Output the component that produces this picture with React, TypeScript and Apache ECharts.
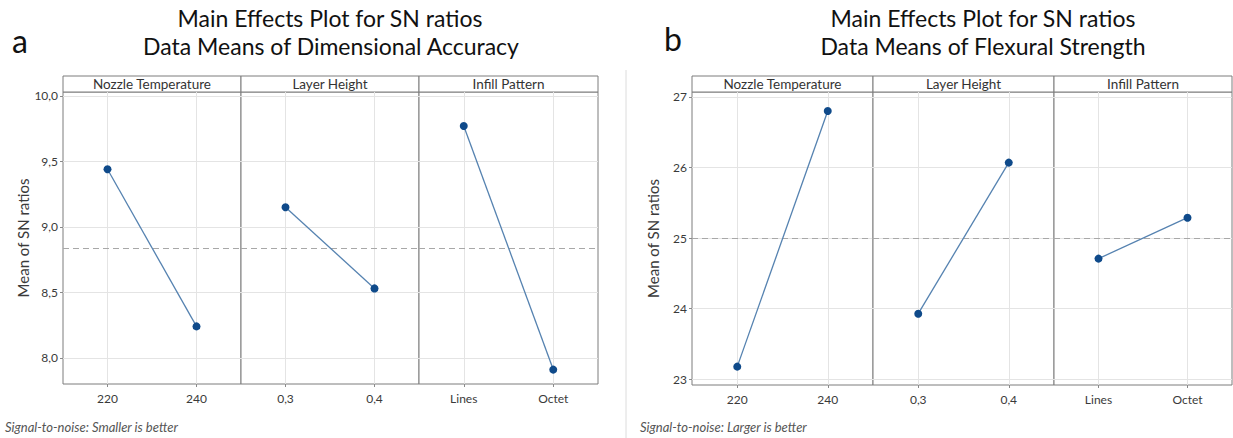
import React, { useEffect, useRef } from "react";
import * as echarts from "echarts";

// ---- data ----
const factors = ["Nozzle Temperature", "Layer Height", "Infill Pattern"];
const nozzleLevels = ["220", "240"];
const layerLevels = ["0,3", "0,4"];
const infillLevels = ["Lines", "Octet"];

// (a) Dimensional accuracy, SN ratios (smaller is better)
const accNozzle = [9.44, 8.24];
const accLayer = [9.15, 8.53];
const accInfill = [9.77, 7.91];
const accTicks = [8.0, 8.5, 9.0, 9.5, 10.0];

// (b) Flexural strength, SN ratios (larger is better)
const flexNozzle = [23.18, 26.8];
const flexLayer = [23.93, 26.07];
const flexInfill = [24.71, 25.29];
const flexTicks = [23, 24, 25, 26, 27];

const titleA = ["Main Effects Plot for SN ratios", "Data Means of Dimensional Accuracy"];
const titleB = ["Main Effects Plot for SN ratios", "Data Means of Flexural Strength"];
const noteA = "Signal-to-noise: Smaller is better";
const noteB = "Signal-to-noise: Larger is better";
const yName = "Mean of SN ratios";

const mean = (arrs: number[][]) => {
  const all = arrs.flat();
  return all.reduce((s, v) => s + v, 0) / all.length;
};

// ---- layout ----
const FONT = "Lato, 'Noto Sans', sans-serif";
const panelsA = { lefts: [63, 241, 419], widths: [178, 178, 179], top: 92, height: 292 };
const panelsB = { lefts: [692, 873, 1054], widths: [181, 181, 178], top: 92, height: 293 };
const HEADER_H = 16;

export default function App() {
  const ref = useRef<HTMLDivElement>(null);
  useEffect(() => {
    if (!ref.current) return;
    const chart = echarts.init(ref.current, null, { renderer: "svg" });

    const levels = [nozzleLevels, layerLevels, infillLevels];
    const accData = [accNozzle, accLayer, accInfill];
    const flexData = [flexNozzle, flexLayer, flexInfill];
    const accMean = mean(accData);
    const flexMean = mean(flexData);

    const grids: any[] = [];
    const xAxes: any[] = [];
    const yAxes: any[] = [];
    const series: any[] = [];
    const graphics: any[] = [];

    const gridStyle = { color: "#e4e4e4", type: "solid", width: 1 };

    const build = (
      panels: typeof panelsA,
      data: number[][],
      m: number,
      yMin: number,
      yMax: number,
      ticks: number[],
      fmt: (v: number) => string
    ) => {
      for (let i = 0; i < 3; i++) {
        const idx = grids.length;
        grids.push({
          left: panels.lefts[i],
          top: panels.top,
          width: panels.widths[i],
          height: panels.height,
          show: true,
          borderColor: "#7d7d7d",
          borderWidth: 1,
          backgroundColor: "#fff",
        });
        xAxes.push({
          type: "category",
          gridIndex: idx,
          data: levels[i],
          boundaryGap: true,
          axisLine: { show: false },
          axisTick: { show: true, alignWithLabel: true, length: 3, lineStyle: { color: "#8a8a8a" } },
          axisLabel: { color: "#3a3a3a", fontSize: 12, fontFamily: FONT, margin: 8 },
          splitLine: { show: false },
        });
        yAxes.push({
          type: "value",
          gridIndex: idx,
          min: yMin,
          max: yMax,
          axisLine: { show: false },
          axisTick: { show: i === 0, length: 3, customValues: ticks, lineStyle: { color: "#8a8a8a" } },
          axisLabel: {
            show: i === 0,
            customValues: ticks,
            color: "#3a3a3a",
            fontSize: 12,
            fontFamily: FONT,
            margin: 5,
            formatter: (v: number) => fmt(v),
          },
          splitLine: { show: false },
          name: i === 0 ? yName : "",
          nameLocation: "middle",
          nameGap: 32,
          nameTextStyle: { color: "#3a3a3a", fontSize: 15, fontFamily: FONT },
        });
        series.push({
          type: "line",
          xAxisIndex: idx,
          yAxisIndex: idx,
          data: data[i],
          symbol: "circle",
          symbolSize: 8,
          itemStyle: { color: "#0f4a8a" },
          lineStyle: { color: "#5582b0", width: 1.3 },
          z: 3,
          markLine: {
            silent: true,
            symbol: "none",
            z: 1,
            label: { show: false },
            data: [
              ...levels[i].map((c) => ({ xAxis: c, lineStyle: gridStyle })),
              ...ticks.map((t) => ({ yAxis: t, lineStyle: gridStyle })),
              { yAxis: m, lineStyle: { color: "#a8a8a8", type: [6, 4], width: 1 } },
            ],
          },
        });
        graphics.push({
          type: "rect",
          shape: { x: panels.lefts[i], y: panels.top - HEADER_H, width: panels.widths[i], height: HEADER_H },
          style: { fill: "#fff", stroke: "#7d7d7d", lineWidth: 1 },
        });
        graphics.push({
          type: "text",
          x: panels.lefts[i] + panels.widths[i] / 2,
          y: panels.top - HEADER_H / 2,
          style: { text: factors[i], fill: "#333", font: `13.5px ${FONT}`, align: "center", verticalAlign: "middle" },
        });
      }
    };

    build(panelsA, accData, accMean, 7.8, 10.03, accTicks, (v) => v.toFixed(1).replace(".", ","));
    build(panelsB, flexData, flexMean, 22.92, 27.07, flexTicks, (v) => String(Math.round(v)));

    const txt = (text: string, x: number, y: number, font: string, fill = "#111", align = "center") => ({
      type: "text",
      x,
      y,
      style: { text, fill, font, align, verticalAlign: "middle" },
    });

    graphics.push(txt(titleA[0], 330, 18, `23px ${FONT}`));
    graphics.push(txt(titleA[1], 331, 46, `23px ${FONT}`));
    graphics.push(txt(titleB[0], 983, 18, `23px ${FONT}`));
    graphics.push(txt(titleB[1], 983, 46, `23px ${FONT}`));
    graphics.push(txt("a", 20, 40, `32px ${FONT}`));
    graphics.push(txt("b", 673, 38, `32px ${FONT}`));
    graphics.push(txt(noteA, 5, 427, `italic 13px ${FONT}`, "#555", "left"));
    graphics.push(txt(noteB, 640, 427, `italic 13px ${FONT}`, "#555", "left"));
    graphics.push({
      type: "line",
      shape: { x1: 626, y1: 70, x2: 626, y2: 438 },
      style: { stroke: "#dcdcdc", lineWidth: 1 },
    });

    chart.setOption({
      animation: false,
      backgroundColor: "#fff",
      grid: grids,
      xAxis: xAxes,
      yAxis: yAxes,
      series,
      graphic: graphics,
    });
    return () => chart.dispose();
  }, []);

  return (
    <div
      ref={ref}
      style={{ position: "absolute", left: 0, top: 0, width: 1233, height: 438, background: "#fff" }}
    />
  );
}
